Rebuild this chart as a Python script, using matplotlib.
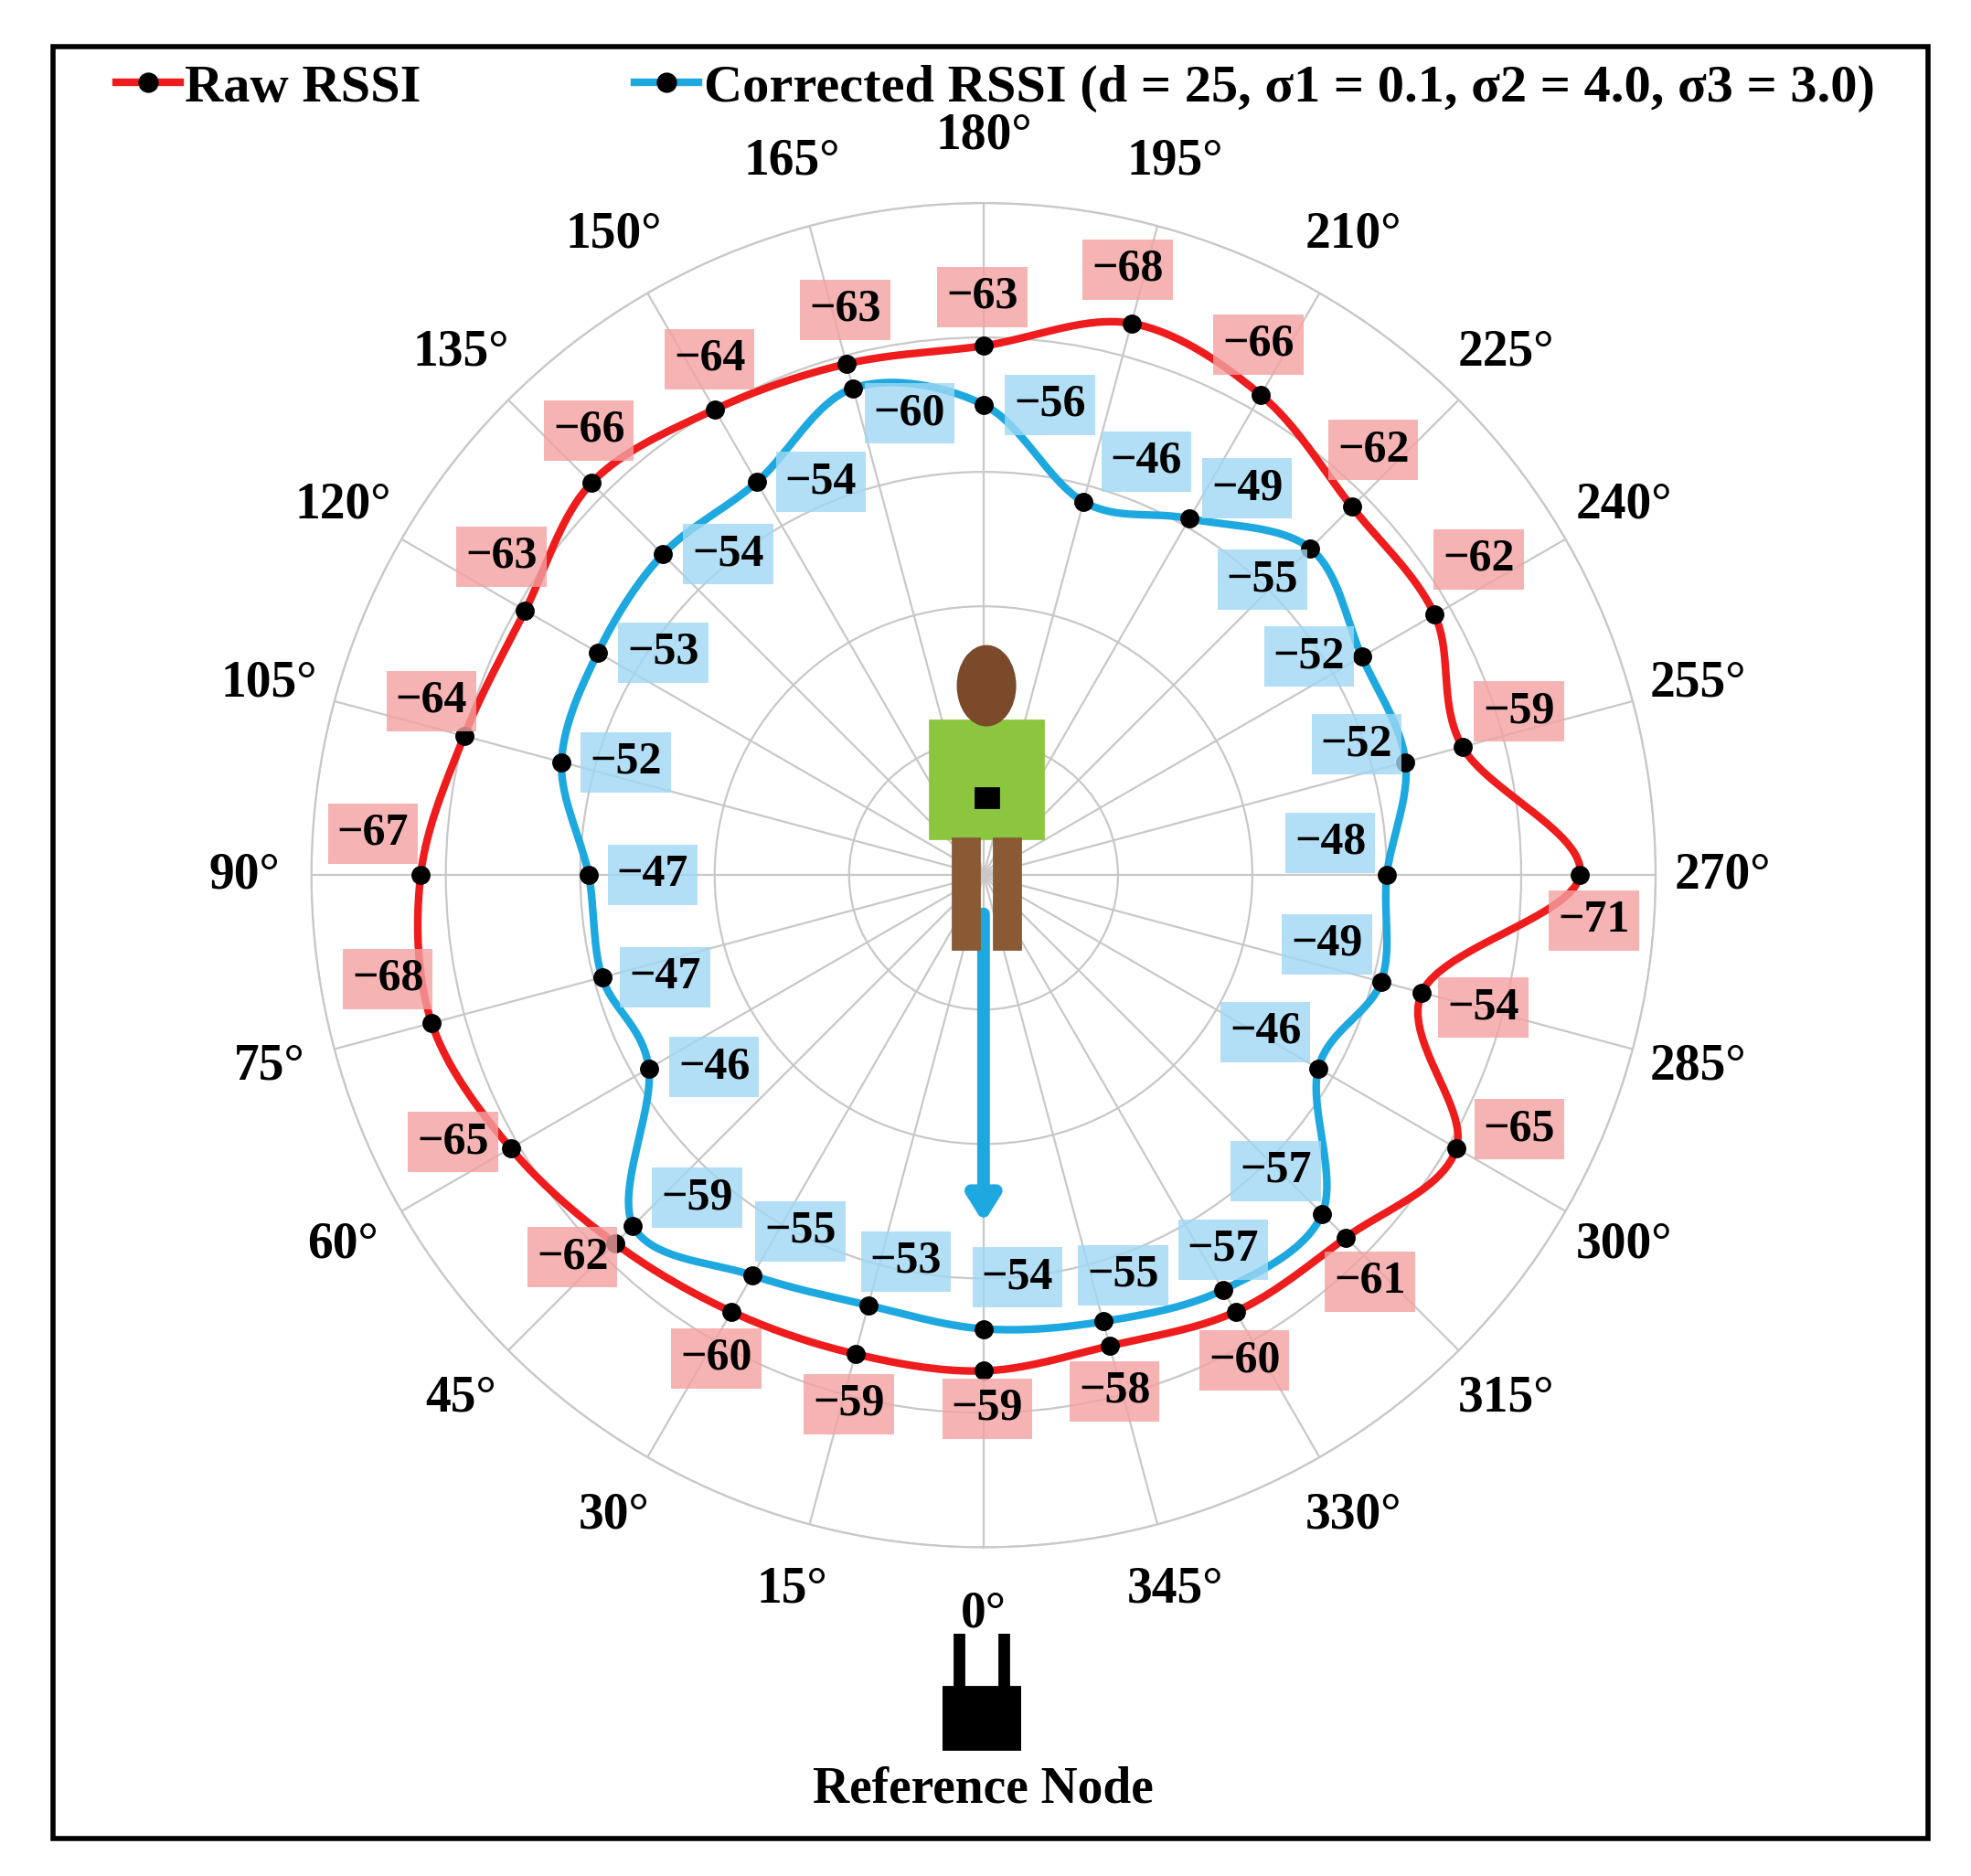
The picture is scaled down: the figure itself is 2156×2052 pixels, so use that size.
import numpy as np
import matplotlib
matplotlib.use("Agg")
import matplotlib.pyplot as plt
from matplotlib.patches import Rectangle, Ellipse
from matplotlib.lines import Line2D

angles_deg = list(range(0, 360, 15))
raw_rssi = [-59, -59, -60, -62, -65, -68, -67, -64, -63, -66, -64, -63,
            -63, -68, -66, -62, -62, -59, -71, -54, -65, -61, -60, -58]
corr_rssi = [-54, -53, -55, -59, -46, -47, -47, -52, -53, -54, -54, -60,
             -56, -46, -49, -55, -52, -52, -48, -49, -46, -57, -57, -55]

# label offsets (reference pixels, x right / y down)
raw_off = [(3, 30), (-5, 40), (-12, 37), (-34, 11), (-46, -5), (-35, -35), (-38, -33), (-26, -28),
           (-19, -43), (-2, -42), (-4, -40), (-1, -43), (-1, -39), (-3, -43), (-2, -40), (17, -45),
           (35, -44), (45, -28), (11, 36), (49, 12), (50, -15), (19, 35), (7, 39), (4, 36)]
corr_off = [(27, -41), (30, -35), (38, -35), (51, -22), (52, -1), (50, 0), (51, 0), (51, 0),
            (52, 0), (52, 0), (51, 0), (45, 20), (53, 0), (50, -32), (46, -24), (-38, 25),
            (-42, 0), (-39, -14), (-45, -26), (-43, -30), (-42, -29), (-37, -34), (0, -32), (16, -37)]

plt.rcParams['font.family'] = ['Liberation Serif', 'DejaVu Serif']
plt.rcParams['font.weight'] = 'bold'

fig = plt.figure(figsize=(10.78, 10.26), dpi=200)
ax = fig.add_axes([0.158, 0.175, 0.682, 0.717], projection='polar')
ax.set_theta_zero_location('S')
ax.set_theta_direction(-1)
ax.set_ylim(0, 80)
ax.set_yticks([16, 32, 48, 64, 80])
ax.set_yticklabels([])
ax.set_xticks(np.deg2rad(angles_deg))
ax.set_xticklabels([])
ax.grid(color='#c8c8c8', lw=0.8)
ax.spines['polar'].set_color('#c8c8c8')

def smooth(th, r, n=20):
    th = np.asarray(th); r = np.asarray(r)
    x = r * np.sin(th); y = r * np.cos(th)
    P = np.stack([x, y], 1); N = len(P)
    out = []
    for i in range(N):
        p0, p1, p2, p3 = P[i-1], P[i], P[(i+1) % N], P[(i+2) % N]
        for t in np.linspace(0, 1, n, endpoint=False):
            out.append(0.5*((2*p1) + (-p0+p2)*t + (2*p0-5*p1+4*p2-p3)*t**2 + (-p0+3*p1-3*p2+p3)*t**3))
    out.append(out[0])
    out = np.array(out)
    return np.arctan2(out[:, 0], out[:, 1]), np.hypot(out[:, 0], out[:, 1])

th = np.deg2rad(angles_deg)
for vals, col in [(raw_rssi, '#ee1c1c'), (corr_rssi, '#1ea8e0')]:
    r = -np.array(vals, float)
    st, sr = smooth(th, r)
    ax.plot(st, sr, color=col, lw=3, zorder=3)
    ax.plot(th, r, 'o', color='black', ms=6.5, zorder=4)

k = 0.495
for a, v, (dx, dy) in zip(th, raw_rssi, raw_off):
    ax.annotate(f"\u2212{-v}", (a, -v), xytext=(dx*k, -dy*k), textcoords='offset points',
                ha='center', va='center', fontsize=18,
                bbox=dict(boxstyle='square,pad=0.2', fc='#f4a0a0', ec='none', alpha=0.8), zorder=5)
for a, v, (dx, dy) in zip(th, corr_rssi, corr_off):
    ax.annotate(f"\u2212{-v}", (a, -v), xytext=(dx*k, -dy*k), textcoords='offset points',
                ha='center', va='center', fontsize=18,
                bbox=dict(boxstyle='square,pad=0.2', fc='#9fd8f3', ec='none', alpha=0.8), zorder=5)

for a in angles_deg:
    ax.text(np.deg2rad(a), 88, f"{a}°", ha='center', va='center', fontsize=20)

ax.annotate('', xy=(0, 42), xytext=(0, 4),
            arrowprops=dict(arrowstyle='-|>,head_width=0.5,head_length=0.8', color='#1ea8e0', lw=5), zorder=6)

pax = fig.add_axes([0.462, 0.49, 0.077, 0.168])
pax.axis('off'); pax.set_xlim(-1, 1); pax.set_ylim(-1, 1)
pax.add_patch(Rectangle((-0.75, -0.25), 1.5, 0.75, color='#8cc63f'))
pax.add_patch(Rectangle((-0.45, -0.95), 0.35, 0.7, color='#8a5a35'))
pax.add_patch(Rectangle((0.1, -0.95), 0.35, 0.7, color='#8a5a35'))
pax.add_patch(Ellipse((0, 0.72), 0.75, 0.5, color='#7a4a2a'))
pax.add_patch(Rectangle((-0.15, -0.05), 0.3, 0.12, color='black'))

fig.text(0.499, 0.046, "Reference Node", ha='center', va='center', fontsize=20)
nax = fig.add_axes([0.478, 0.067, 0.04, 0.062])
nax.axis('off'); nax.set_xlim(0, 1); nax.set_ylim(0, 1)
nax.add_patch(Rectangle((0.0, 0), 1.0, 0.55, color='black'))
nax.add_patch(Rectangle((0.15, 0.5), 0.12, 0.5, color='black'))
nax.add_patch(Rectangle((0.72, 0.5), 0.12, 0.5, color='black'))

h1 = Line2D([], [], color='#ee1c1c', lw=3, marker='o', mfc='black', mec='black', ms=7)
h2 = Line2D([], [], color='#1ea8e0', lw=3, marker='o', mfc='black', mec='black', ms=7)
fig.legend([h1, h2], ["Raw RSSI", "Corrected RSSI (d = 25, σ1 = 0.1, σ2 = 4.0, σ3 = 3.0)"],
           loc='center', bbox_to_anchor=(0.505, 0.953), ncol=2, frameon=False,
           fontsize=21, handlelength=1.2, handletextpad=0.1, columnspacing=4, borderpad=0)

fig.add_artist(Rectangle((0.027, 0.02), 0.951, 0.955, transform=fig.transFigure,
                         fill=False, ec='black', lw=2))
fig.savefig("out.png", dpi=200, facecolor='white')
